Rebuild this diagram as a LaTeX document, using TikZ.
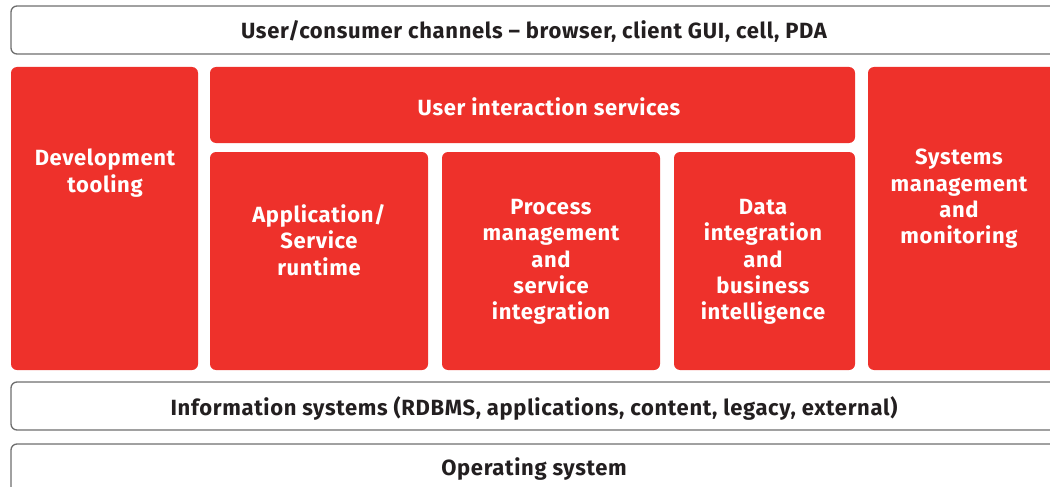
\documentclass[tikz,border=0pt]{standalone}
\usepackage{fontspec}
\setmainfont{Fira Sans}[LetterSpace=3]
\definecolor{brandred}{RGB}{238,49,43}
\definecolor{edgegray}{RGB}{110,110,110}
\definecolor{inkdark}{RGB}{35,31,32}
\begin{document}
\begin{tikzpicture}[x=1pt,y=-1pt,
  layer/.style={draw=edgegray, line width=1.3pt, fill=white, rounded corners=6pt,
    inner sep=0pt, outer sep=0pt},
  block/.style={fill=brandred, rounded corners=6pt, inner sep=0pt, outer sep=0pt},
  caption/.style={font=\fontsize{22}{26.3}\selectfont\bfseries, align=center,
    inner sep=0pt},
  dark/.style={caption, text=inkdark},
  light/.style={caption, text=white}]
\useasboundingbox (0,0) rectangle (1050,487);
\clip (0,0) rectangle (1050,487);

% horizontal layers
\node[layer, minimum width=1046pt, minimum height=48pt] (channels) at (534,30) {};
\node[layer, minimum width=1046pt, minimum height=48pt] (infosys) at (534,406) {};
\node[layer, minimum width=1046pt, minimum height=60pt] (os) at (534,474) {};

% red service blocks
\node[block, minimum width=187pt, minimum height=303pt] (devtool) at (104.5,218.5) {};
\node[block, minimum width=645pt, minimum height=76pt] (uis) at (532.5,105) {};
\node[block, minimum width=218pt, minimum height=218pt] (runtime) at (319,261) {};
\node[block, minimum width=218pt, minimum height=218pt] (process) at (551,261) {};
\node[block, minimum width=181pt, minimum height=218pt] (data) at (764.5,261) {};
\node[block, minimum width=189pt, minimum height=303pt] (sysmgmt) at (962.5,218.5) {};

% captions
\node[dark] (channelsText) at (534,31) {User/consumer channels -- browser, client GUI, cell, PDA};
\node[dark] (infosysText) at (534,408) {Information systems (RDBMS, applications, content, legacy, external)};
\node[dark] (osText) at (534,469) {Operating system};
\node[light] (devtoolText) at (105,173) {Development\\tooling};
\node[light] (uisText) at (549,107) {User interaction services};
\node[light] (runtimeText) at (319,240) {Application/\\Service\\runtime};
\node[light] (processText) at (551,262) {Process\\management\\and\\service\\integration};
\node[light] (dataText) at (763,262) {Data\\integration\\and\\business\\intelligence};
\node[light] (sysmgmtText) at (959,199) {Systems\\management\\and\\monitoring};
\end{tikzpicture}
\end{document}
